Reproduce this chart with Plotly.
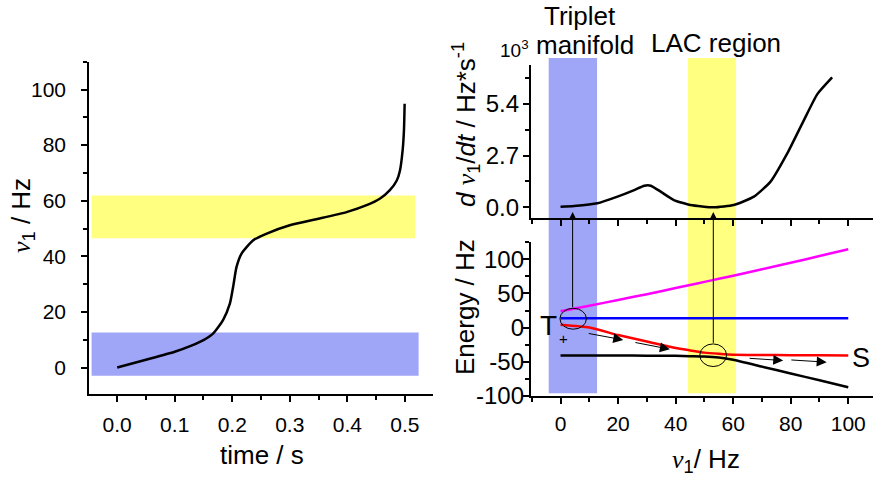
import plotly.graph_objects as go

W, H = 873, 478

# ---------------- data ----------------
# left panel: nu1 vs time
time_s = [0, 0.05, 0.1, 0.13, 0.15, 0.167, 0.184, 0.196, 0.2016, 0.2075, 0.2162,
          0.2365, 0.26, 0.3, 0.352, 0.4, 0.4336, 0.457, 0.474, 0.486, 0.4916,
          0.4962, 0.4985, 0.4997]
nu1_t = [0, 2.8, 5.7, 8.0, 9.9, 12.3, 17.1, 23.1, 29.1, 36.2, 41.0, 45.8, 48.2,
         51.2, 53.6, 56.0, 58.4, 60.8, 63.8, 67.3, 70.9, 78.1, 85.3, 94.9]

# top right: dnu1/dt (10^3 Hz/s) vs nu1
nu_rate = [0, 4.7, 12.8, 19.8, 25.6, 29.1, 31.4, 34.8, 39.4, 45.2, 53.3, 60.2,
           67.2, 73.0, 78.8, 84.6, 89.2, 94.4]
rate = [0.03, 0.07, 0.21, 0.56, 0.90, 1.13, 1.13, 0.82, 0.38, 0.12, 0.0, 0.12,
        0.56, 1.34, 2.81, 4.55, 5.89, 6.77]

# bottom right: energy levels vs nu1
nu_E = [0, 10, 20, 30, 40, 45, 50, 55, 60, 70, 80, 90, 100]
E_magenta = [24, 32, 40.5, 49, 58, 62.5, 67, 71.5, 76, 85.5, 95, 105, 115]
E_blue = [13.7] * 13
E_red = [4, 0, -11, -20.5, -30, -33.5, -36.8, -38.6, -40, -40.3, -40.5, -40.8, -41]
E_black = [-41, -41, -41, -41.2, -41.5, -42, -42.5, -44, -47.3, -57.3, -67.4, -77.4, -87.5]

# tick labels
E_ticks = [-100, -50, 0, 50, 100]
E_ticklabels = ["-100", "-50", "0", "50", "100"]
rate_ticks = [0, 2.7, 5.4]
rate_ticklabels = ["0.0", "2.7", "5.4"]

# highlighted regions
lac_band_t = [-0.0445, 0.5177, 46.5, 61.9]
trip_band_t = [-0.0445, 0.524, -2.9, 12.6]
trip_band_nu = [-4.1, 12.7]
lac_band_nu = [44.3, 61.0]

# decorations in the energy panel
circles = [(-0.2, 9.0, -2.4, 28.3), (48.4, 57.7, -57.2, -24.0)]
dash_arrows = [(9.3, -8.3, 21.8, -18.1), (25.5, -21.5, 38.0, -31.8),
               (65.2, -45.0, 77.4, -48.4), (79.7, -47.4, 92.5, -50.8)]
dash_plain = [(39.2, -42.5, 48.4, -42.5)]
vert_arrows = [(4.2, 96.6), (53.1, 132.3)]

FONT = "Liberation Sans, Arial, sans-serif"
BLUE_BAND = "#9fa5f7"
YELLOW_BAND = "#ffff80"
NU = "<span style=\"font-family:'Liberation Serif', serif\"><i>ν</i></span>"

fig = go.Figure()
line_style = dict(width=2.5)
fig.add_trace(go.Scatter(x=time_s, y=nu1_t, mode="lines", xaxis="x", yaxis="y",
                         line=dict(color="black", shape="spline", smoothing=0.6, **line_style)))
fig.add_trace(go.Scatter(x=nu_rate, y=rate, mode="lines", xaxis="x2", yaxis="y2",
                         line=dict(color="black", shape="spline", smoothing=0.5, **line_style)))
for ys, col in [(E_magenta, "#ff00ff"), (E_blue, "#0000ff"), (E_red, "#ff0000"), (E_black, "black")]:
    fig.add_trace(go.Scatter(x=nu_E, y=ys, mode="lines", xaxis="x3", yaxis="y3",
                             line=dict(color=col, shape="spline", smoothing=0.5, **line_style)))

def px_x(p):
    return p / W

def px_y(p):
    return 1 - p / H

def axis_common(size):
    return dict(showline=True, linecolor="black", linewidth=1.6, ticks="outside",
                ticklen=6, tickwidth=1.6, tickcolor="black", showgrid=False,
                zeroline=False, tickfont=dict(size=size, family=FONT, color="black"),
                automargin=False)

minor_common = dict(ticks="outside", ticklen=4, tickwidth=1.6, tickcolor="black", showgrid=False)

xr_dom = [px_x(530.6), 1.0]
xr_range = [-10.4, 108.6]

fig.update_layout(
    width=W, height=H, margin=dict(l=0, r=0, t=0, b=0),
    paper_bgcolor="white", plot_bgcolor="rgba(0,0,0,0)", showlegend=False,
    font=dict(family=FONT, color="black"),
    xaxis=dict(domain=[px_x(89), px_x(433)], range=[-0.049, 0.549], anchor="y",
               tickvals=[0, 0.1, 0.2, 0.3, 0.4, 0.5], tickformat=".1f",
               minor=dict(dtick=0.05, tick0=0, **minor_common), ticklabelstandoff=5,
               **axis_common(21)),
    yaxis=dict(domain=[px_y(394), px_y(61.7)], range=[-9.5, 110], anchor="x",
               dtick=20, tick0=0, minor=dict(dtick=10, tick0=0, **minor_common),
               ticklabelstandoff=11, **axis_common(21)),
    xaxis2=dict(domain=xr_dom, range=xr_range, anchor="y2", dtick=20, tick0=0,
                showticklabels=False, minor=dict(dtick=10, tick0=0, **minor_common),
                **axis_common(21)),
    yaxis2=dict(domain=[px_y(218.3), px_y(65)], range=[-0.57, 7.42], anchor="x2",
                tickvals=rate_ticks, ticktext=rate_ticklabels,
                minor=dict(tickvals=[1.35, 4.05, 6.75], **minor_common),
                ticklabelstandoff=-1, **axis_common(24)),
    xaxis3=dict(domain=xr_dom, range=xr_range, anchor="y3", dtick=20, tick0=0,
                minor=dict(dtick=10, tick0=0, **minor_common), ticklabelstandoff=2,
                **axis_common(21)),
    yaxis3=dict(domain=[px_y(395.7), px_y(241.7)], range=[-100, 126], anchor="x3",
                tickvals=E_ticks, ticktext=E_ticklabels,
                minor=dict(dtick=25, tick0=0, **minor_common),
                ticklabelstandoff=-6, **axis_common(24)),
)

shapes = []
# left bands
shapes.append(dict(type="rect", xref="x", yref="y", x0=lac_band_t[0], x1=lac_band_t[1],
                   y0=lac_band_t[2], y1=lac_band_t[3], fillcolor=YELLOW_BAND,
                   line=dict(width=0), layer="below"))
shapes.append(dict(type="rect", xref="x", yref="y", x0=trip_band_t[0], x1=trip_band_t[1],
                   y0=trip_band_t[2], y1=trip_band_t[3], fillcolor=BLUE_BAND,
                   line=dict(width=0), layer="below"))
# right bands spanning both panels
for band, col in [(trip_band_nu, BLUE_BAND), (lac_band_nu, YELLOW_BAND)]:
    shapes.append(dict(type="rect", xref="x3", yref="paper", x0=band[0], x1=band[1],
                       y0=px_y(393.3), y1=px_y(58), fillcolor=col,
                       line=dict(width=0), layer="below"))
for (x0, x1, y0, y1) in circles:
    shapes.append(dict(type="circle", xref="x3", yref="y3", x0=x0, x1=x1, y0=y0, y1=y1,
                       line=dict(color="black", width=1)))
for (x0, y0, x1, y1) in dash_plain:
    shapes.append(dict(type="line", xref="x3", yref="y3", x0=x0, x1=x1, y0=y0, y1=y1,
                       line=dict(color="black", width=1)))
fig.update_layout(shapes=shapes)

ann = []
for (xh, ay) in vert_arrows:
    ann.append(dict(xref="x2", yref="y2", x=xh, y=-0.245, ax=0, ay=ay, text="",
                    showarrow=True, arrowhead=2, arrowsize=1.6, arrowwidth=1,
                    arrowcolor="black", standoff=0))
for (x0, y0, x1, y1) in dash_arrows:
    ann.append(dict(xref="x3", yref="y3", axref="x3", ayref="y3", x=x1, y=y1, ax=x0, ay=y0,
                    text="", showarrow=True, arrowhead=2, arrowsize=2, arrowwidth=1,
                    arrowcolor="black", standoff=0))

def txt(text, x, y, size=26, angle=0, xanchor="center"):
    ann.append(dict(xref="paper", yref="paper", x=px_x(x), y=px_y(y), text=text,
                    showarrow=False, textangle=angle, xanchor=xanchor, yanchor="middle",
                    font=dict(size=size, family=FONT, color="black")))

txt(NU + "<sub>1</sub> / Hz", 22, 216, angle=-90)
txt("time / s", 262, 455)
txt("<i>d</i> " + NU + "<sub>1</sub>/<i>dt</i> / Hz*s<sup>-1</sup>", 466, 125, angle=-90)
txt("Energy / Hz", 465, 307, angle=-90)
txt(NU + "<sub>1</sub>/ Hz", 706, 460)
txt("Triplet", 580, 16)
txt("manifold", 585, 45)
txt("LAC region", 716, 43)
txt("10<sup>3</sup>", 514, 49, size=19)
txt("T", 548, 325, size=28)
txt("+", 563, 338, size=15)
txt("S", 861, 358, size=27)

fig.update_layout(annotations=ann)
fig.write_html("out.html")
